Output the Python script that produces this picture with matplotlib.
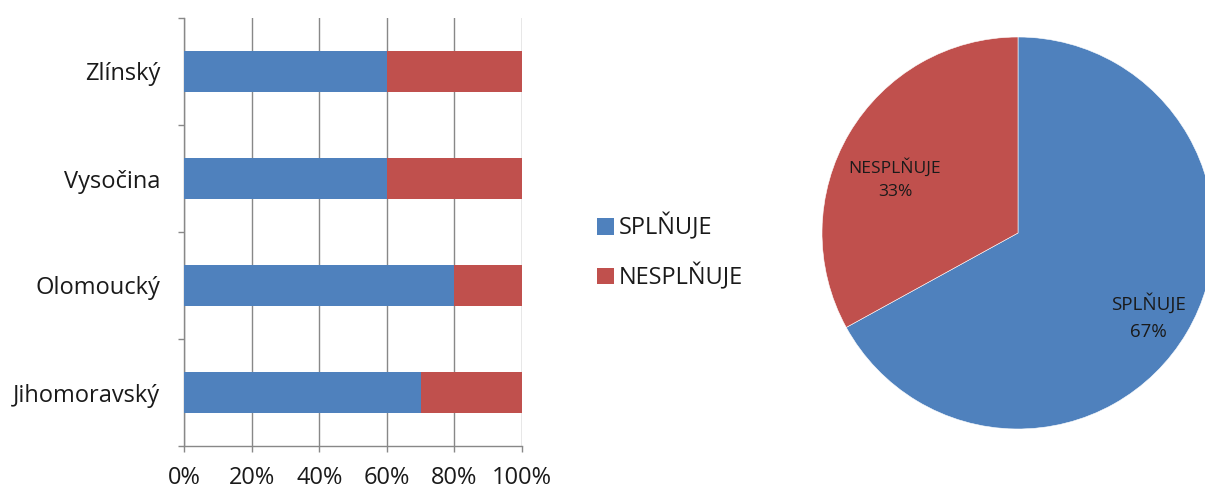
import matplotlib
matplotlib.use("Agg")
import matplotlib.pyplot as plt
from matplotlib.ticker import FixedLocator, PercentFormatter

# Regions (bottom to top) and share of schools meeting / not meeting the criterion
regions = ["Jihomoravský", "Olomoucký", "Vysočina", "Zlínský"]
splnuje = [70, 80, 60, 60]
nesplnuje = [30, 20, 40, 40]

# Overall share
pie_labels = ["SPLŇUJE", "NESPLŇUJE"]
pie_values = [67, 33]

x_ticks = [0, 20, 40, 60, 80, 100]

BLUE = "#4F81BD"
RED = "#C0504D"
GRID = "#888888"
TEXT = "#1a1a1a"

plt.rcParams["font.family"] = ["Open Sans", "DejaVu Sans"]

W, H = 1205, 491
fig = plt.figure(figsize=(W / 100, H / 100), dpi=100)

def px_axes(left, top, right, bottom):
    return fig.add_axes([left / W, 1 - bottom / H, (right - left) / W, (bottom - top) / H])

# ---- stacked horizontal bars ----
ax = px_axes(184, 18, 522, 446)
pos = list(range(len(regions)))
b1 = ax.barh(pos, splnuje, height=0.39, color=BLUE, label="SPLŇUJE", zorder=3)
b2 = ax.barh(pos, nesplnuje, left=splnuje, height=0.39, color=RED, label="NESPLŇUJE", zorder=3)
ax.set_xlim(0, 100)
ax.set_ylim(-0.5, len(regions) - 0.5)

ax.xaxis.set_major_locator(FixedLocator(x_ticks))
ax.xaxis.set_major_formatter(PercentFormatter(decimals=0))
ax.grid(axis="x", color=GRID, linewidth=1.0, zorder=0)

ax.yaxis.set_major_locator(FixedLocator([p - 0.5 for p in pos] + [len(regions) - 0.5]))
ax.yaxis.set_major_formatter(plt.NullFormatter())
ax.yaxis.set_minor_locator(FixedLocator(pos))
ax.set_yticklabels(regions, minor=True)

ax.tick_params(axis="y", which="major", length=4.5, color=GRID, width=1)
ax.tick_params(axis="y", which="minor", length=0, pad=17, labelsize=17, labelcolor=TEXT)
ax.tick_params(axis="x", length=4.5, color=GRID, width=1, pad=10, labelsize=17, labelcolor=TEXT)

for s in ("top", "right"):
    ax.spines[s].set_visible(False)
for s in ("left", "bottom"):
    ax.spines[s].set_color(GRID)
    ax.spines[s].set_linewidth(1.0)

# ---- legend ----
fig.legend(handles=[b1, b2], loc="center left", bbox_to_anchor=(576 / W, 1 - 252 / H),
           frameon=False, fontsize=17, handlelength=0.7, handleheight=0.7,
           handletextpad=0.2, labelspacing=0.95, labelcolor=TEXT)

# ---- pie ----
cx, cy, r = 1018, 233, 196
pax = px_axes(cx - 210, cy - 210, cx + 210, cy + 210)
wedges, texts = pax.pie(pie_values, colors=[BLUE, RED], startangle=90, counterclock=False,
                        radius=1.0, wedgeprops=dict(edgecolor="white", linewidth=0.4))
pax.set_xlim(-210 / r, 210 / r)
pax.set_ylim(-210 / r, 210 / r)
pax.set_aspect("equal")
pax.axis("off")

# labels inside the slices
label_pos = [(1148, 317), (895, 179)]
label_size = [13.5, 12.5]
for (lx, ly), fs, name, val in zip(label_pos, label_size, pie_labels, pie_values):
    pax.text((lx - cx) / r, (cy - ly) / r, f"{name}\n{val}%", ha="center", va="center",
             fontsize=fs, color=TEXT, linespacing=1.6)

fig.savefig("out.png", dpi=100)
